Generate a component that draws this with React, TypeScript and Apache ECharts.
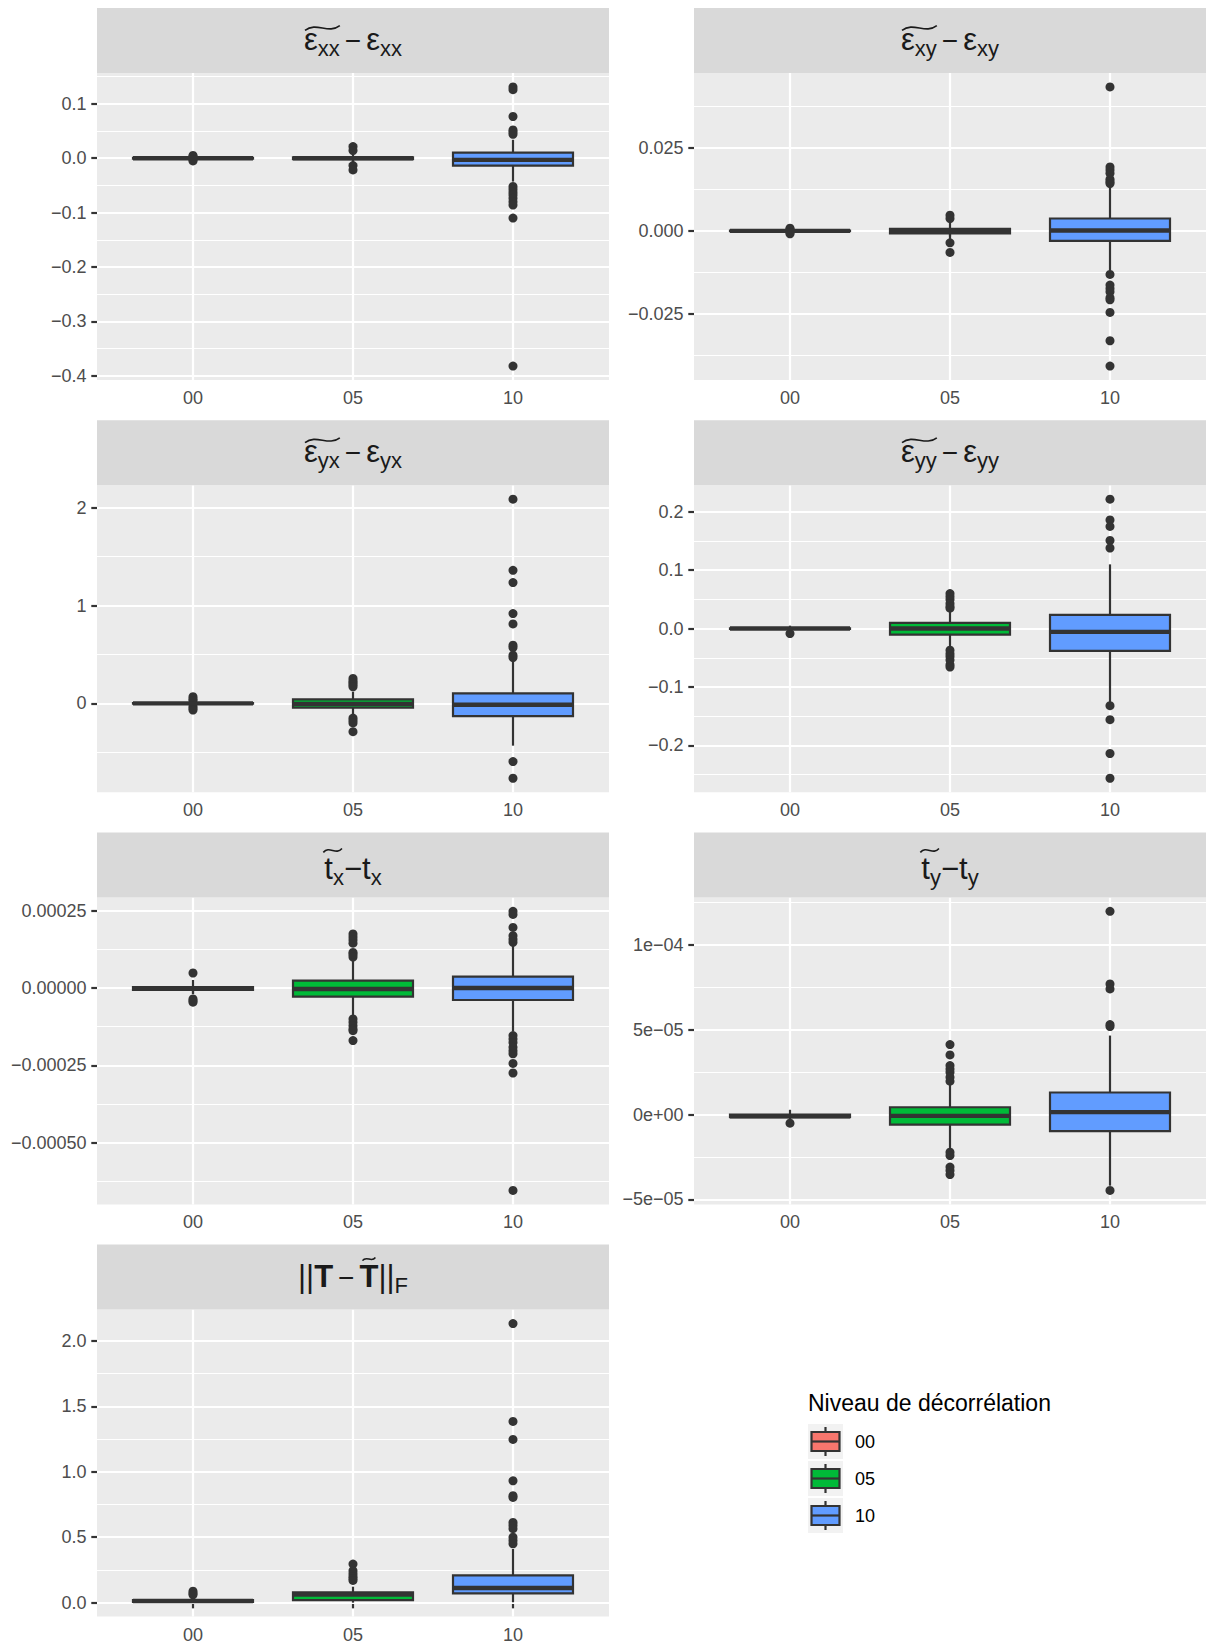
import React, { useEffect, useRef } from 'react';
import * as echarts from 'echarts';

// ---------- data ----------
const groups = ['00', '05', '10'];
const groupColors = ['#F8766D', '#00BA38', '#619CFF'];

// boxes: [lowerWhisker, Q1, median, Q3, upperWhisker] for 00, 05, 10
const exxBoxes = [
  [-0.002, -0.0008, 0, 0.0008, 0.002],
  [-0.006, -0.0015, 0, 0.0015, 0.006],
  [-0.043, -0.0135, -0.003, 0.0104, 0.034],
];
const exxOutliers = [
  [0.005, 0.003, -0.003, -0.005],
  [0.0215, 0.014, -0.0135, -0.0215],
  [0.131, 0.126, 0.0767, 0.052, 0.048, 0.044, -0.052, -0.057, -0.0626, -0.0675, -0.0736, -0.08, -0.086, -0.11, -0.382],
];
const exyBoxes = [
  [-0.0004, -0.0001, 0, 0.0001, 0.0004],
  [-0.0028, -0.0008, 0, 0.0006, 0.0026],
  [-0.012, -0.003, 0.0001, 0.0037, 0.0135],
];
const exyOutliers = [
  [0.0008, 0.0005, -0.0005, -0.0009],
  [0.0047, 0.0037, -0.0036, -0.0065],
  [0.0432, 0.0192, 0.0183, 0.0173, 0.0155, 0.0147, 0.0142, -0.0131, -0.0163, -0.0173, -0.0183, -0.0201, -0.0207, -0.0245, -0.033, -0.0406],
];
const eyxBoxes = [
  [-0.01, -0.003, 0, 0.003, 0.01],
  [-0.12, -0.044, -0.005, 0.041, 0.12],
  [-0.432, -0.129, -0.014, 0.102, 0.45],
];
const eyxOutliers = [
  [0.068, 0.045, 0.03, -0.03, -0.05, -0.068],
  [0.255, 0.23, 0.21, 0.19, 0.17, -0.15, -0.175, -0.2, -0.289],
  [2.088, 1.36, 1.235, 0.918, 0.813, 0.595, 0.571, 0.493, 0.469, -0.595, -0.765],
];
const eyyBoxes = [
  [-0.001, -0.0005, 0, 0.0005, 0.005],
  [-0.031, -0.0103, 0, 0.0097, 0.031],
  [-0.128, -0.0382, -0.0057, 0.0234, 0.11],
];
const eyyOutliers = [
  [-0.0085],
  [0.06, 0.055, 0.05, 0.043, 0.038, 0.035, -0.037, -0.043, -0.048, -0.054, -0.062, -0.066],
  [0.2217, 0.186, 0.175, 0.151, 0.138, -0.132, -0.156, -0.214, -0.2564],
];
const txBoxes = [
  [-0.00002, -0.000006, -0.000002, 0.000003, 0.000026],
  [-0.000095, -0.000028, -0.000003, 0.0000237, 0.000095],
  [-0.00014, -0.0000388, 0, 0.0000366, 0.00014],
];
const txOutliers = [
  [0.0000485, -0.0000356, -0.000041, -0.000046],
  [0.000175, 0.000165, 0.000155, 0.000145, 0.000115, 0.000108, 0.0001, -0.0001, -0.000111, -0.000122, -0.000133, -0.000138, -0.00017],
  [0.000248, 0.000238, 0.000196, 0.000169, 0.000158, 0.000148, -0.000154, -0.000165, -0.000176, -0.000192, -0.000203, -0.000213, -0.000244, -0.000275, -0.000655],
];
const tyBoxes = [
  [-0.000003, -0.0000016, -0.000001, 0, 0.0000028],
  [-0.0000203, -0.0000059, -0.0000008, 0.0000043, 0.0000175],
  [-0.000042, -0.0000098, 0.0000014, 0.000013, 0.0000466],
];
const tyOutliers = [
  [-0.0000051],
  [0.0000413, 0.0000352, 0.0000289, 0.0000269, 0.000025, 0.000022, 0.0000197, -0.0000222, -0.0000242, -0.000031, -0.000033, -0.0000354],
  [0.0001199, 0.0000771, 0.0000741, 0.0000531, 0.0000519, -0.0000448],
];
const normBoxes = [
  [0.0005, 0.006, 0.012, 0.02, 0.035],
  [0, 0.02, 0.061, 0.079, 0.122],
  [0.003, 0.071, 0.112, 0.209, 0.41],
];
const normOutliers = [
  [0.087, 0.072, 0.06],
  [0.295, 0.244, 0.22, 0.2, 0.185, 0.17],
  [2.132, 1.384, 1.247, 0.931, 0.817, 0.804, 0.613, 0.59, 0.565, 0.5, 0.475, 0.45],
];

// axis breaks
const exxTicks = [-0.4, -0.3, -0.2, -0.1, 0, 0.1];
const exxLabels = ['\u22120.4', '\u22120.3', '\u22120.2', '\u22120.1', '0.0', '0.1'];
const exxMinor = [-0.35, -0.25, -0.15, -0.05, 0.05, 0.15];
const exyTicks = [-0.025, 0, 0.025];
const exyLabels = ['\u22120.025', '0.000', '0.025'];
const exyMinor = [-0.0375, -0.0125, 0.0125, 0.0375];
const eyxTicks = [0, 1, 2];
const eyxLabels = ['0', '1', '2'];
const eyxMinor = [-0.5, 0.5, 1.5];
const eyyTicks = [-0.2, -0.1, 0, 0.1, 0.2];
const eyyLabels = ['\u22120.2', '\u22120.1', '0.0', '0.1', '0.2'];
const eyyMinor = [-0.25, -0.15, -0.05, 0.05, 0.15];
const txTicks = [-0.0005, -0.00025, 0, 0.00025];
const txLabels = ['\u22120.00050', '\u22120.00025', '0.00000', '0.00025'];
const txMinor = [-0.000625, -0.000375, -0.000125, 0.000125];
const tyTicks = [-0.00005, 0, 0.00005, 0.0001];
const tyLabels = ['\u22125e\u221205', '0e+00', '5e\u221205', '1e\u221204'];
const tyMinor = [-0.000025, 0.000025, 0.000075, 0.000125];
const normTicks = [0, 0.5, 1, 1.5, 2];
const normLabels = ['0.0', '0.5', '1.0', '1.5', '2.0'];
const normMinor = [0.25, 0.75, 1.25, 1.75];

const legendTitle = 'Niveau de d\u00e9corr\u00e9lation';

// ---------- layout ----------
const FONT = '"Liberation Sans", Arial, Helvetica, sans-serif';
const COL_X = [97, 694];
const PANEL_W = 512;
const STRIP_TOP = [8, 420.2, 832.4, 1244.6];
const STRIP_H = 65;
const PANEL_H = 307;

type Piece = { t: string; s: number; b?: boolean; dy?: number; gap?: number };
type TitleSpec = { pieces: Piece[]; base: number; tilde: [number, number]; tdy: number; tamp: number; tpad: [number, number] };

const F = 31, S = 22, SD = 6;
const epsTitle = (a: string): TitleSpec => ({
  pieces: [
    { t: '\u03b5', s: F }, { t: a, s: S, dy: SD },
    { t: '\u2212', s: 28, gap: 5 },
    { t: '\u03b5', s: F, gap: 5 }, { t: a, s: S, dy: SD },
  ],
  base: 42, tilde: [0, 1], tdy: -22, tamp: 3.4, tpad: [1, 0],
});
const tTitle = (a: string): TitleSpec => ({
  pieces: [
    { t: 't', s: F }, { t: a, s: S, dy: SD },
    { t: '\u2212', s: F },
    { t: 't', s: F }, { t: a, s: S, dy: SD },
  ],
  base: 47, tilde: [0, 1], tdy: -29, tamp: 2.8, tpad: [-1, -2],
});
const normTitle: TitleSpec = {
  pieces: [
    { t: '||', s: F }, { t: 'T', s: F, b: true },
    { t: '\u2212', s: 28, gap: 5 },
    { t: 'T', s: F, b: true, gap: 5 }, { t: '||', s: F }, { t: 'F', s: S, dy: SD },
  ],
  base: 42.5, tilde: [3, 3], tdy: -28, tamp: 2.2, tpad: [3, -3],
};

const panels = [
  { boxes: exxBoxes, out: exxOutliers, ticks: exxTicks, labels: exxLabels, minor: exxMinor, title: epsTitle('xx'), row: 0, col: 0 },
  { boxes: exyBoxes, out: exyOutliers, ticks: exyTicks, labels: exyLabels, minor: exyMinor, title: epsTitle('xy'), row: 0, col: 1 },
  { boxes: eyxBoxes, out: eyxOutliers, ticks: eyxTicks, labels: eyxLabels, minor: eyxMinor, title: epsTitle('yx'), row: 1, col: 0 },
  { boxes: eyyBoxes, out: eyyOutliers, ticks: eyyTicks, labels: eyyLabels, minor: eyyMinor, title: epsTitle('yy'), row: 1, col: 1 },
  { boxes: txBoxes, out: txOutliers, ticks: txTicks, labels: txLabels, minor: txMinor, title: tTitle('x'), row: 2, col: 0 },
  { boxes: tyBoxes, out: tyOutliers, ticks: tyTicks, labels: tyLabels, minor: tyMinor, title: tTitle('y'), row: 2, col: 1 },
  { boxes: normBoxes, out: normOutliers, ticks: normTicks, labels: normLabels, minor: normMinor, title: normTitle, row: 3, col: 0 },
];

let measureCtx: CanvasRenderingContext2D | null = null;
function textWidth(t: string, size: number, bold?: boolean) {
  if (!measureCtx) measureCtx = document.createElement('canvas').getContext('2d');
  if (!measureCtx) return t.length * size * 0.5;
  measureCtx.font = `${bold ? 'bold ' : ''}${size}px "Liberation Sans"`;
  return measureCtx.measureText(t).width;
}

function buildTitle(spec: TitleSpec, cx: number, stripTop: number) {
  const baseY = stripTop + spec.base;
  const widths = spec.pieces.map((p) => textWidth(p.t, p.s, p.b));
  let total = 0;
  spec.pieces.forEach((p, i) => { total += (p.gap || 0) + widths[i]; });
  let x = cx - total / 2;
  const els: any[] = [];
  const xs: number[][] = [];
  spec.pieces.forEach((p, i) => {
    x += p.gap || 0;
    xs.push([x, x + widths[i]]);
    els.push({
      type: 'text', x, y: baseY + (p.dy || 0) - 0.3465 * p.s, silent: true, z: 20,
      style: {
        text: p.t, fill: '#1A1A1A', textAlign: 'left', textVerticalAlign: 'middle',
        font: `${p.b ? 'bold ' : ''}${p.s}px ${FONT}`,
      },
    });
    x += widths[i];
  });
  const x0 = xs[spec.tilde[0]][0] + spec.tpad[0];
  const x1 = xs[spec.tilde[1]][1] + spec.tpad[1];
  const w = x1 - x0;
  const ty = baseY + spec.tdy;
  const a = spec.tamp;
  els.push({
    type: 'bezierCurve', silent: true, z: 20,
    shape: { x1: x0, y1: ty + a * 0.7, cpx1: x0 + w * 0.33, cpy1: ty - a * 1.9, cpx2: x0 + w * 0.67, cpy2: ty + a * 1.9, x2: x1, y2: ty - a * 0.7 },
    style: { stroke: '#1A1A1A', lineWidth: 1.6, fill: null },
  });
  return els;
}

function expand(boxes: number[][], out: number[][]) {
  const all: number[] = [];
  boxes.forEach((b) => all.push(...b));
  out.forEach((o) => all.push(...o));
  const mn = Math.min(...all), mx = Math.max(...all);
  const pad = (mx - mn) * 0.05;
  return [mn - pad, mx + pad];
}

function buildOption() {
  const grid: any[] = [];
  const xAxis: any[] = [];
  const yAxis: any[] = [];
  const series: any[] = [];
  const graphic: any[] = [];
  const tickStyle = { color: '#333333', width: 2.2 };
  const labelBase = { color: '#4D4D4D', fontSize: 18, fontFamily: FONT };

  panels.forEach((p, i) => {
    const left = COL_X[p.col];
    const stripTop = STRIP_TOP[p.row];
    const top = stripTop + STRIP_H;
    grid.push({ left, top, width: PANEL_W, height: PANEL_H, show: true, backgroundColor: '#EBEBEB', borderWidth: 0, outerBoundsMode: 'none' });
    const [ymin, ymax] = expand(p.boxes, p.out);
    const span = ymax - ymin;
    xAxis.push({
      type: 'value', gridIndex: i, min: 0.4, max: 3.6,
      axisLine: { show: false },
      axisTick: { show: true, length: 5.7, customValues: [1, 2, 3], lineStyle: tickStyle },
      axisLabel: { ...labelBase, margin: 9, customValues: [1, 2, 3], formatter: (v: number) => groups[Math.round(v) - 1] },
      splitLine: { show: true, lineStyle: { color: '#FFFFFF', width: 2.2 } },
    });
    const ticks = p.ticks, labels = p.labels;
    yAxis.push({
      type: 'value', gridIndex: i, min: ymin, max: ymax,
      axisLine: { show: false },
      axisTick: { show: true, length: 5.7, customValues: ticks, lineStyle: tickStyle },
      axisLabel: {
        ...labelBase, margin: 10.5, customValues: ticks,
        formatter: (v: number) => {
          let best = 0;
          ticks.forEach((t, k) => { if (Math.abs(t - v) < Math.abs(ticks[best] - v)) best = k; });
          return Math.abs(ticks[best] - v) < span * 1e-6 ? labels[best] : '';
        },
      },
      splitLine: { show: true, lineStyle: { color: '#FFFFFF', width: 2.2 } },
      z: 1,
    });
    yAxis.push({
      type: 'value', gridIndex: i, min: ymin, max: ymax, position: 'left',
      axisLine: { show: false },
      axisTick: { show: false, customValues: p.minor },
      axisLabel: { show: false, customValues: p.minor },
      splitLine: { show: true, lineStyle: { color: '#FFFFFF', width: 1.1 } },
      z: 0,
    });
    const outData: number[][] = [];
    p.out.forEach((arr, g) => arr.forEach((v) => outData.push([g + 1, v])));
    series.push({
      type: 'scatter', xAxisIndex: i, yAxisIndex: 2 * i, data: outData,
      symbol: 'circle', symbolSize: 9, itemStyle: { color: '#333333', opacity: 1 }, silent: true, z: 2,
    });
    series.push({
      type: 'custom', xAxisIndex: i, yAxisIndex: 2 * i, silent: true, z: 3,
      data: p.boxes.map((b, g) => [g + 1, ...b]),
      encode: { x: 0, y: [1, 2, 3, 4, 5] },
      renderItem: (params: any, api: any) => {
        const x = api.value(0);
        const c = (v: number) => api.coord([x, v]);
        const lo = c(api.value(1)), q1 = c(api.value(2)), md = c(api.value(3)), q3 = c(api.value(4)), hi = c(api.value(5));
        const w = api.size([0.75, 0])[0];
        const cx = lo[0];
        const color = groupColors[Math.round(x) - 1];
        const ln = { stroke: '#333333', lineWidth: 2.2 };
        return {
          type: 'group',
          children: [
            { type: 'line', shape: { x1: cx, y1: hi[1], x2: cx, y2: q3[1] }, style: ln },
            { type: 'line', shape: { x1: cx, y1: q1[1], x2: cx, y2: lo[1] }, style: ln },
            { type: 'rect', shape: { x: cx - w / 2, y: q3[1], width: w, height: q1[1] - q3[1] }, style: { fill: color, stroke: '#333333', lineWidth: 2.2 } },
            { type: 'line', shape: { x1: cx - w / 2, y1: md[1], x2: cx + w / 2, y2: md[1] }, style: { stroke: '#333333', lineWidth: 4.4 } },
          ],
        };
      },
    });
    graphic.push({ type: 'rect', silent: true, z: 10, shape: { x: left, y: stripTop, width: PANEL_W, height: STRIP_H }, style: { fill: '#D9D9D9' } });
    graphic.push(...buildTitle(p.title, left + PANEL_W / 2, stripTop));
  });

  // legend
  const LX = 808, LY0 = 1424, KEY = 35, STEP = 37;
  graphic.push({ type: 'text', x: LX, y: 1403, silent: true, style: { text: legendTitle, fill: '#000000', font: `23px ${FONT}`, textAlign: 'left', textVerticalAlign: 'middle' } });
  groups.forEach((g, k) => {
    const y = LY0 + k * STEP;
    graphic.push({ type: 'rect', silent: true, shape: { x: LX, y, width: KEY, height: KEY }, style: { fill: '#F2F2F2' } });
    graphic.push({ type: 'line', silent: true, shape: { x1: LX + 17.5, y1: y + 3, x2: LX + 17.5, y2: y + 32 }, style: { stroke: '#333333', lineWidth: 2.2 } });
    graphic.push({ type: 'rect', silent: true, shape: { x: LX + 3.5, y: y + 8, width: 28, height: 19 }, style: { fill: groupColors[k], stroke: '#333333', lineWidth: 2.2 } });
    graphic.push({ type: 'line', silent: true, shape: { x1: LX + 3.5, y1: y + 17.5, x2: LX + 31.5, y2: y + 17.5 }, style: { stroke: '#333333', lineWidth: 2.2 } });
    graphic.push({ type: 'text', silent: true, x: LX + 47, y: y + 17.5, style: { text: g, fill: '#000000', font: `18px ${FONT}`, textAlign: 'left', textVerticalAlign: 'middle' } });
  });

  return { animation: false, backgroundColor: '#FFFFFF', grid, xAxis, yAxis, series, graphic };
}

export default function App() {
  const ref = useRef<HTMLDivElement>(null);
  useEffect(() => {
    if (!ref.current) return;
    const chart = echarts.init(ref.current, undefined, { renderer: 'svg' });
    chart.setOption(buildOption() as any);
    return () => chart.dispose();
  }, []);
  return <div ref={ref} style={{ position: 'absolute', left: 0, top: 0, width: 1206, height: 1644 }} />;
}
